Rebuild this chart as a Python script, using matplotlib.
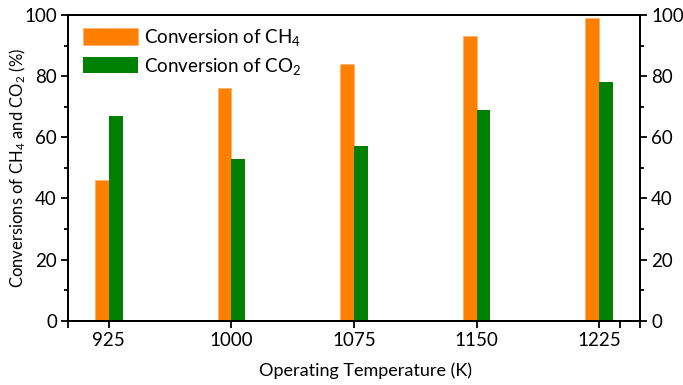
import numpy as np
import matplotlib
matplotlib.use("Agg")
import matplotlib.pyplot as plt
from matplotlib.ticker import FixedLocator, MultipleLocator

plt.rcParams['font.family'] = ['Lato', 'DejaVu Sans']
plt.rcParams['mathtext.fontset'] = 'custom'
plt.rcParams['mathtext.rm'] = 'Lato'
plt.rcParams['mathtext.default'] = 'regular'

# data
temps = [925, 1000, 1075, 1150, 1225]
ch4_conv = [46, 76, 84, 93, 99]
co2_conv = [67, 53, 57, 69, 78]

orange = '#FF8000'
green = '#008000'
bw = 8.5
fs = 13.5

fig = plt.figure(figsize=(6.83, 3.85), dpi=100)
ax = fig.add_axes([68 / 683, 64.3 / 385, (640 - 68) / 683, (320.7 - 15) / 385])

x = np.array(temps, dtype=float)
ax.bar(x, ch4_conv, width=-bw, align='edge', color=orange, edgecolor='#FFB070',
       linewidth=0.6, label='Conversion of CH$_4$')
ax.bar(x, co2_conv, width=bw, align='edge', color=green, linewidth=0,
       label='Conversion of CO$_2$')

ax.set_xlim(900, 1250)
ax.set_ylim(0, 100)
ax.set_xticks(temps)
ax.xaxis.set_minor_locator(FixedLocator([900, 1237.5, 1250]))
ax.yaxis.set_major_locator(MultipleLocator(20))
ax.yaxis.set_minor_locator(MultipleLocator(10))

for s in ax.spines.values():
    s.set_linewidth(1.3)
ax.tick_params(which='major', direction='out', length=5, width=1.3, labelsize=fs, pad=3)
ax.tick_params(axis='x', which='minor', direction='out', length=5, width=1.3)
ax.tick_params(axis='y', which='minor', direction='out', length=3, width=1.3)

# mirrored right axis
ax2 = ax.twinx()
ax2.set_ylim(0, 100)
ax2.yaxis.set_major_locator(MultipleLocator(20))
ax2.yaxis.set_minor_locator(MultipleLocator(10))
ax2.tick_params(which='major', direction='out', length=5, width=1.3, labelsize=fs, pad=3)
ax2.tick_params(which='minor', direction='out', length=3, width=1.3)
for s in ax2.spines.values():
    s.set_linewidth(1.3)

ax.set_xlabel('Operating Temperature (K)', fontsize=13)
ax.xaxis.set_label_coords(0.52, -0.135)
ax.set_ylabel('Conversions of CH$_4$ and CO$_2$ (%)', fontsize=12)
ax.yaxis.set_label_coords(-0.07, 0.5)

ax.legend(loc='upper left', frameon=False, fontsize=fs, handlelength=2.95,
          handleheight=0.96, handletextpad=0.3, labelspacing=0.4,
          borderaxespad=0, bbox_to_anchor=(0.013, 0.985))

fig.savefig('out.png', dpi=100)
